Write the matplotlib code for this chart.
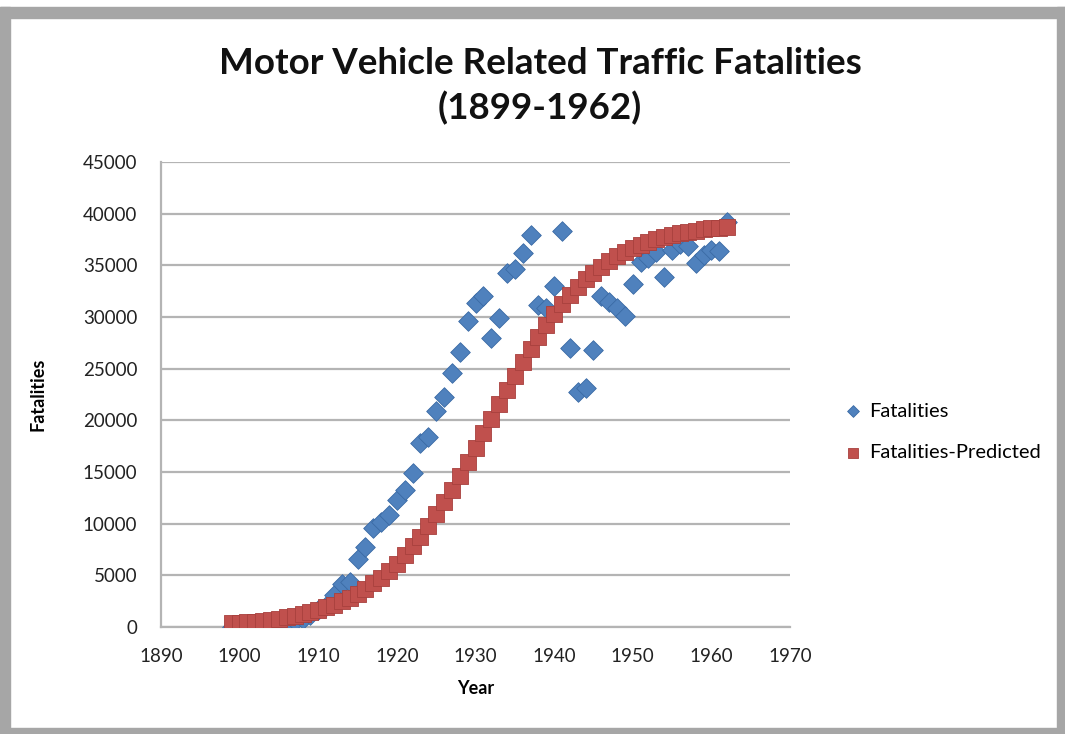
import matplotlib
matplotlib.use("Agg")
import matplotlib.pyplot as plt
from matplotlib.patches import Rectangle

years = list(range(1899, 1963))

fatalities = [
    30, 40, 55, 80, 120, 170, 250, 340, 580, 750,
    1170, 1600, 2040, 3100, 4200, 4400, 6600, 7700, 9600, 10200,
    10800, 12300, 13300, 14900, 17800, 18400, 20900, 22300, 24600, 26600,
    29600, 31400, 32000, 28000, 29900, 34300, 34600, 36200, 37900, 31200,
    30900, 33000, 38300, 27000, 22700, 23100, 26800, 32000, 31500, 30900,
    30100, 33200, 35300, 35700, 36300, 33900, 36500, 37100, 36900, 35200,
    36000, 36500, 36400, 39200,
]

# predicted fatalities (red curve)
predicted = [
    340, 400, 460, 530, 610, 700, 810, 940, 1080, 1240,
    1430, 1640, 1890, 2160, 2480, 2830, 3240, 3700, 4210, 4790,
    5430, 6140, 6940, 7810, 8750, 9780, 10890, 12060, 13300, 14600,
    15950, 17340, 18750, 20170, 21590, 22980, 24330, 25650, 26900, 28100,
    29210, 30250, 31210, 32100, 32900, 33630, 34290, 34880, 35400, 35870,
    36290, 36660, 36980, 37270, 37520, 37740, 37930, 38090, 38240, 38360,
    38480, 38570, 38660, 38730,
]

x_ticks = list(range(1890, 1971, 10))
y_ticks = list(range(0, 45001, 5000))

blue = "#4f81bd"
red = "#c0504d"
grid = "#b4b4b4"

plt.rcParams["font.family"] = ["Lato", "DejaVu Sans"]

fig = plt.figure(figsize=(10.65, 7.34), dpi=100)
W, H = 1065, 734

# grey frame around the picture
frame = "#a6a6a6"
for x0, y0, w, h in [(0, 7, W, 11), (0, 7, 10, H - 7), (W - 8, 7, 8, H - 7), (0, H - 6, W, 6)]:
    fig.patches.append(Rectangle((x0 / W, 1 - (y0 + h) / H), w / W, h / H,
                                 transform=fig.transFigure, color=frame, zorder=0))

ax = fig.add_axes([161 / W, 1 - 627 / H, (790 - 161) / W, (627 - 162) / H])

ax.scatter(years, fatalities, marker="D", s=100, color=blue, edgecolor="#3a6aa5",
           linewidth=0.6, zorder=3, label="Fatalities")
ax.scatter(years, predicted, marker="s", s=130, color=red, edgecolor="#a8403d",
           linewidth=0.6, zorder=4, label="Fatalities-Predicted")

ax.set_xlim(1890, 1970)
ax.set_ylim(0, 45000)
ax.set_xticks(x_ticks)
ax.set_yticks(y_ticks)
ax.tick_params(labelsize=13.5, colors="#222222", length=0)
ax.tick_params(axis="y", pad=17)
ax.tick_params(axis="x", pad=15)
ax.grid(axis="y", color=grid, linewidth=1.6)
ax.set_axisbelow(True)
for side in ["top", "right"]:
    ax.spines[side].set_visible(False)
ax.spines["left"].set_color(grid)
ax.spines["bottom"].set_color(grid)
ax.spines["left"].set_linewidth(1.6)
ax.spines["bottom"].set_linewidth(1.6)

ax.set_xlabel("Year", fontsize=13, fontweight="bold", labelpad=11)
ax.set_ylabel("Fatalities", fontsize=13, fontweight="bold", labelpad=26)

fig.text(540 / W, 1 - 86 / H, "Motor Vehicle Related Traffic Fatalities\n(1899-1962)",
         ha="center", va="center", fontsize=26.5, fontweight="bold",
         linespacing=1.4, color="#111111")

ax.legend(loc="center left", bbox_to_anchor=(1.04, 0.42), frameon=False,
          fontsize=14.5, handletextpad=-0.2, labelspacing=1.2, markerscale=0.6)

fig.savefig("out.png", dpi=100)
